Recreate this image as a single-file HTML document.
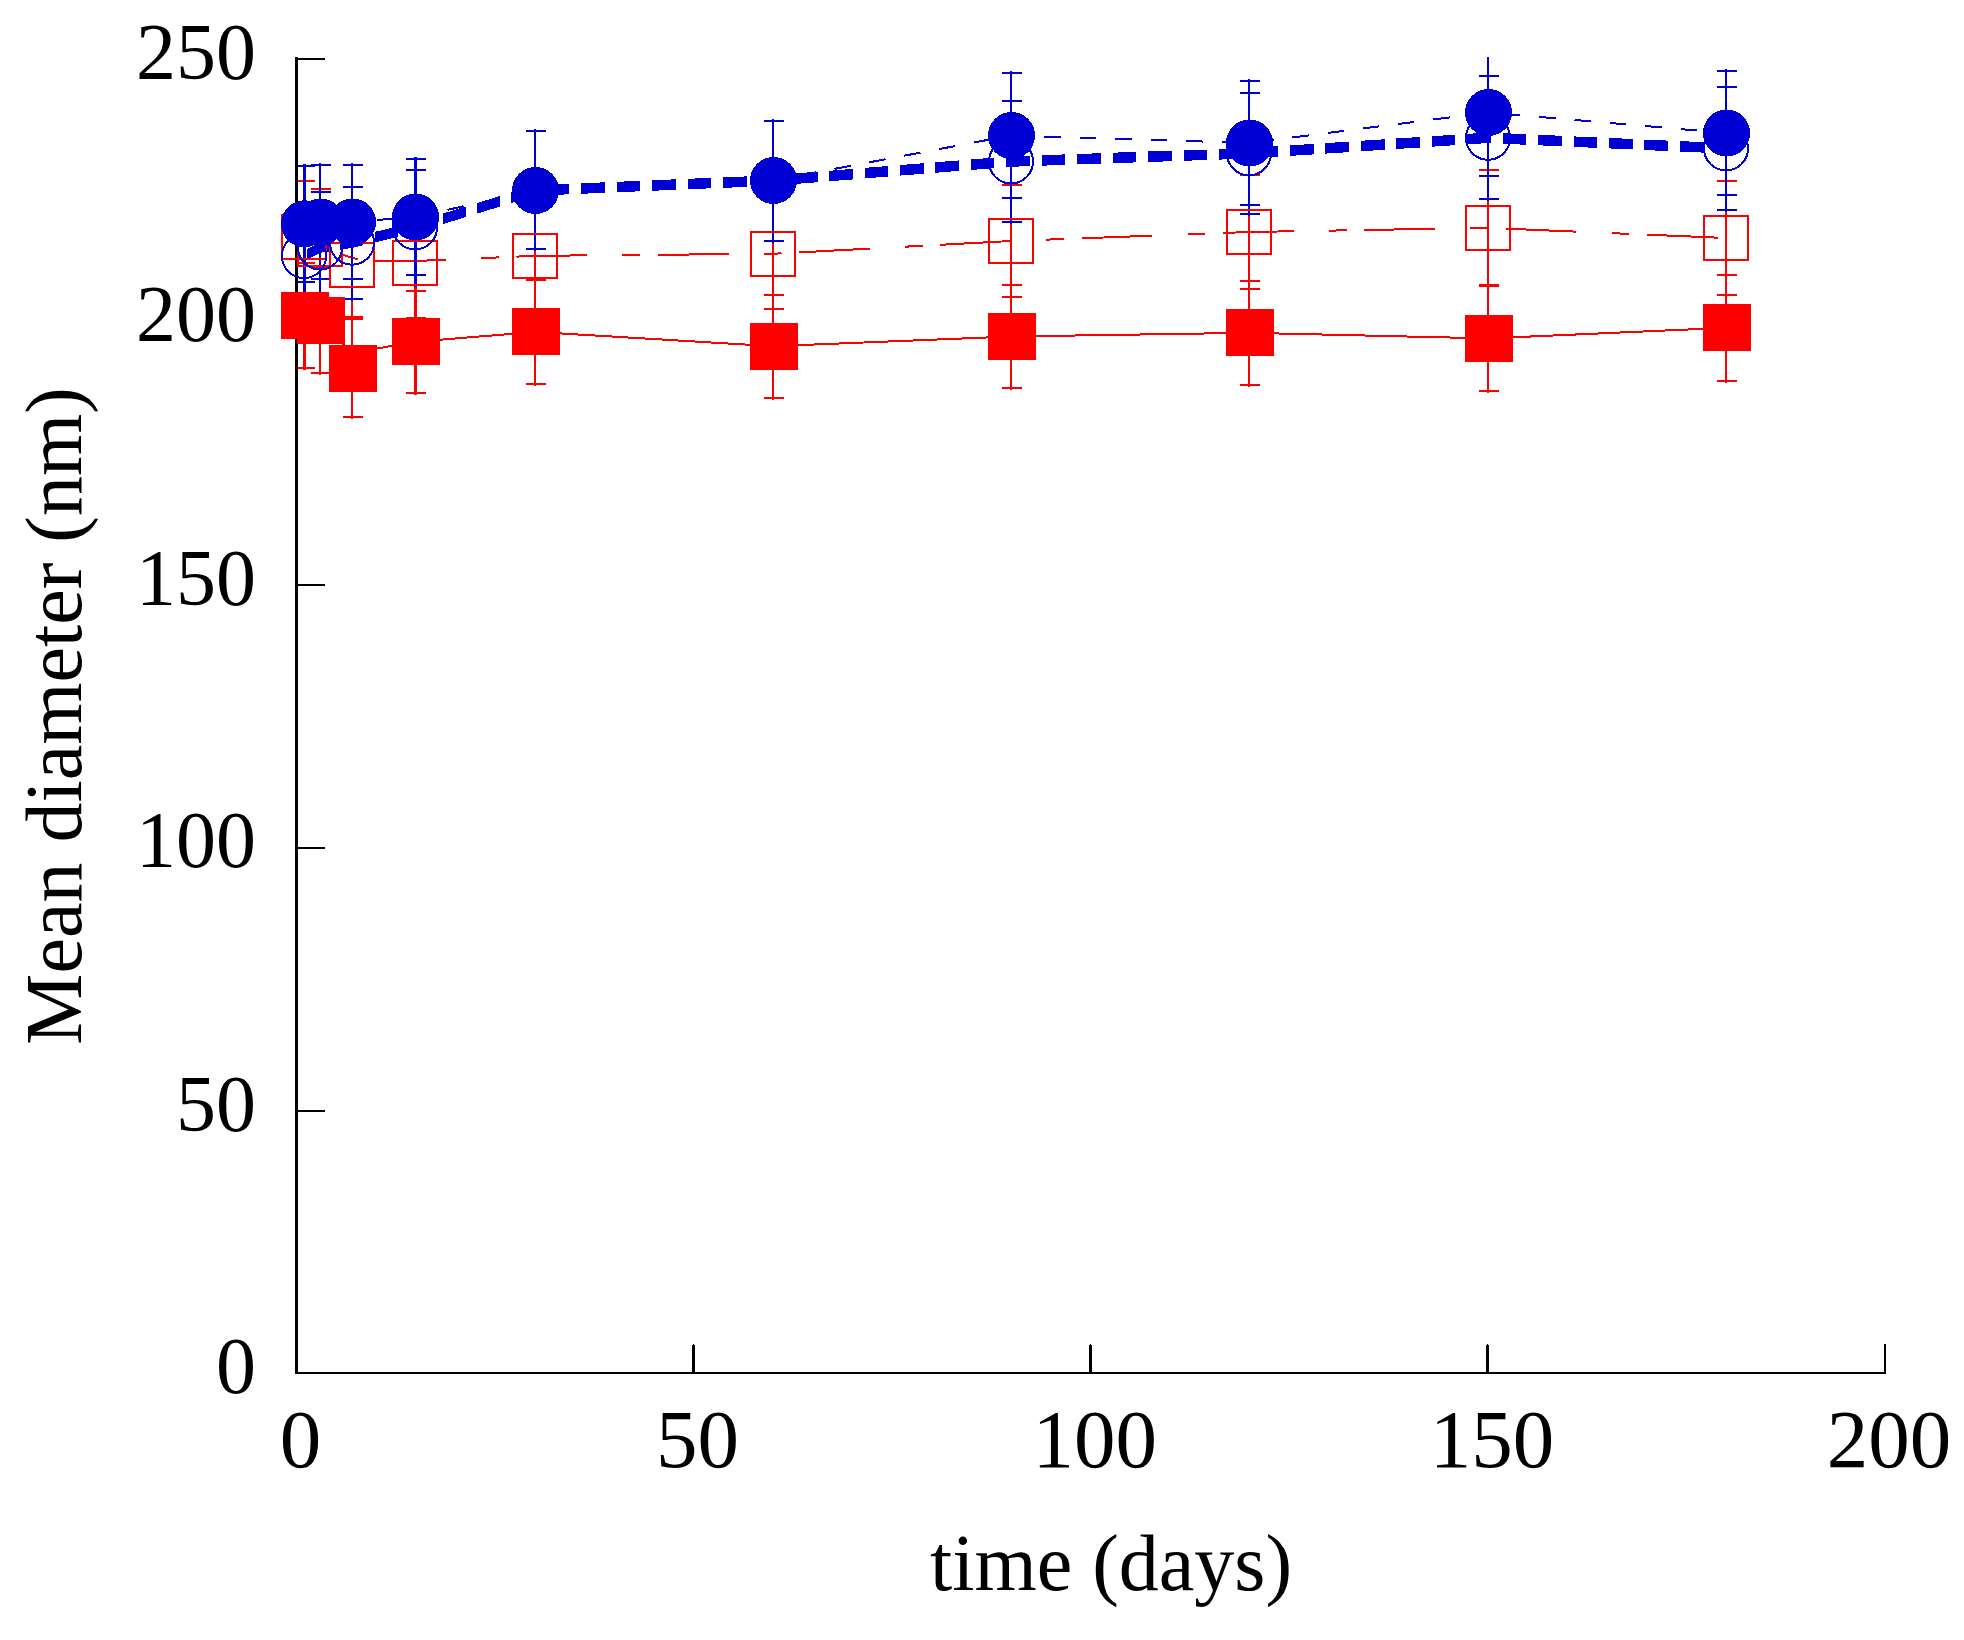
<!DOCTYPE html>
<html lang="en">
<head>
<meta charset="utf-8">
<title>Mean diameter vs time</title>
<style>
html,body{margin:0;padding:0;background:#ffffff;}
body{width:1964px;height:1640px;overflow:hidden;}
svg{display:block;}
</style>
</head>
<body>
<svg width="1964" height="1640" viewBox="0 0 1964 1640" shape-rendering="crispEdges">
<defs><clipPath id="plot"><rect x="298" y="57" width="1640" height="1315"/></clipPath></defs>
<rect width="1964" height="1640" fill="#ffffff"/>
<g fill="#000000">
<rect x="295" y="57" width="3" height="1317"/>
<rect x="295" y="1372" width="1591" height="2"/>
<rect x="297" y="1110" width="28" height="2"/>
<rect x="297" y="847" width="28" height="2"/>
<rect x="297" y="584" width="28" height="2"/>
<rect x="297" y="321" width="28" height="2"/>
<rect x="297" y="58" width="28" height="2"/>
<rect x="692" y="1345" width="3" height="28"/>
<rect x="693" y="1344" width="1" height="1"/>
<rect x="1089" y="1345" width="3" height="28"/>
<rect x="1090" y="1344" width="1" height="1"/>
<rect x="1486" y="1345" width="3" height="28"/>
<rect x="1487" y="1344" width="1" height="1"/>
<rect x="1884" y="1344" width="2" height="29"/>
</g>
<g clip-path="url(#plot)">
<polyline points="304.0,315.5 320.0,320.4 352.0,352.8 415.6,341.8 535.0,331.9 773.0,346.2 1011.0,336.5 1249.0,332.8 1488.0,338.4 1726.0,327.8" fill="none" stroke="#ff0000" stroke-width="2"/>
<polyline points="304.0,237.5 320.3,248.0 363.0,261.0 415.6,261.0 535.0,255.8 773.0,253.8 1011.0,241.0 1249.0,232.0 1488.0,227.9 1726.0,238.0" fill="none" stroke="#ff0000" stroke-width="2" stroke-dasharray="17.7 17.7 70.7 35.3" stroke-dashoffset="100.6"/>
<g fill="#0000d4"><polygon points="306.6,249.3 320.0,242.2 320.0,252.8 306.6,259.8"/><polygon points="320.0,242.2 328.5,241.0 328.5,251.5 320.0,252.8"/><polygon points="340.2,239.2 352.0,237.4 352.0,247.9 340.2,249.7"/><polygon points="352.0,237.4 363.4,234.7 363.4,245.2 352.0,247.9"/><polygon points="374.9,231.9 397.9,226.3 397.9,236.8 374.9,242.4"/><polygon points="409.4,223.5 415.0,222.2 415.0,232.7 409.4,234.0"/><polygon points="415.0,222.2 432.1,216.9 432.1,227.4 415.0,232.7"/><polygon points="443.4,213.4 466.0,206.5 466.0,217.0 443.4,223.9"/><polygon points="477.3,203.0 500.0,196.0 500.0,206.5 477.3,213.5"/><polygon points="511.2,192.6 533.9,185.6 533.9,196.1 511.2,203.1"/><polygon points="545.6,184.8 569.3,183.8 569.3,194.3 545.6,195.3"/><polygon points="581.1,183.3 604.8,182.3 604.8,192.8 581.1,193.8"/><polygon points="616.6,181.8 640.3,180.8 640.3,191.3 616.6,192.3"/><polygon points="652.0,180.3 675.7,179.3 675.7,189.8 652.0,190.8"/><polygon points="687.5,178.8 711.2,177.8 711.2,188.3 687.5,189.3"/><polygon points="723.0,177.4 746.7,176.4 746.7,186.9 723.0,187.9"/><polygon points="758.5,175.9 773.0,175.2 773.0,185.8 758.5,186.4"/><polygon points="773.0,175.2 782.1,174.5 782.1,185.0 773.0,185.8"/><polygon points="793.9,173.6 817.5,171.7 817.5,182.2 793.9,184.1"/><polygon points="829.3,170.8 852.9,168.9 852.9,179.4 829.3,181.3"/><polygon points="864.6,167.9 888.3,166.0 888.3,176.5 864.6,178.4"/><polygon points="900.0,165.1 923.7,163.2 923.7,173.7 900.0,175.6"/><polygon points="935.4,162.3 959.0,160.4 959.0,170.9 935.4,172.8"/><polygon points="970.8,159.5 994.4,157.6 994.4,168.1 970.8,170.0"/><polygon points="1006.2,156.6 1011.0,156.2 1011.0,166.8 1006.2,167.1"/><polygon points="1011.0,156.2 1029.9,155.6 1029.9,166.1 1011.0,166.8"/><polygon points="1041.7,155.2 1065.3,154.4 1065.3,164.9 1041.7,165.7"/><polygon points="1077.1,154.0 1100.8,153.2 1100.8,163.7 1077.1,164.5"/><polygon points="1112.6,152.7 1136.3,151.9 1136.3,162.4 1112.6,163.2"/><polygon points="1148.1,151.5 1171.8,150.7 1171.8,161.2 1148.1,162.0"/><polygon points="1183.6,150.3 1207.3,149.5 1207.3,160.0 1183.6,160.8"/><polygon points="1219.1,149.1 1242.7,148.3 1242.7,158.8 1219.1,159.6"/><polygon points="1254.5,147.7 1278.2,146.2 1278.2,156.7 1254.5,158.2"/><polygon points="1290.0,145.4 1313.6,143.9 1313.6,154.4 1290.0,155.9"/><polygon points="1325.4,143.1 1349.0,141.6 1349.0,152.1 1325.4,153.6"/><polygon points="1360.8,140.8 1384.5,139.3 1384.5,149.8 1360.8,151.3"/><polygon points="1396.2,138.5 1419.9,137.0 1419.9,147.5 1396.2,149.0"/><polygon points="1431.7,136.2 1455.3,134.7 1455.3,145.2 1431.7,146.7"/><polygon points="1467.1,133.9 1488.0,132.6 1488.0,143.1 1467.1,144.4"/><polygon points="1488.0,132.6 1490.7,132.7 1490.7,143.2 1488.0,143.1"/><polygon points="1502.5,133.2 1526.2,134.3 1526.2,144.8 1502.5,143.7"/><polygon points="1538.0,134.8 1561.7,135.8 1561.7,146.3 1538.0,145.3"/><polygon points="1573.5,136.4 1597.1,137.4 1597.1,147.9 1573.5,146.9"/><polygon points="1608.9,137.9 1632.6,139.0 1632.6,149.5 1608.9,148.4"/><polygon points="1644.4,139.5 1668.1,140.6 1668.1,151.1 1644.4,150.0"/><polygon points="1679.8,141.1 1703.5,142.1 1703.5,152.6 1679.8,151.6"/><polygon points="1715.3,142.7 1726.0,143.2 1726.0,153.7 1715.3,153.2"/></g>
<polyline points="304.0,223.8 320.0,222.0 352.0,222.0 415.0,217.0 535.0,190.5 773.0,180.5 1011.0,135.5 1249.0,143.0 1488.0,112.5 1726.0,133.0" fill="none" stroke="#0000d4" stroke-width="2" stroke-dasharray="16.5 19" stroke-dashoffset="33.0"/>
<g fill="#ff0000"><rect x="303" y="261" width="3" height="109"/><rect x="295" y="262" width="20" height="2"/><rect x="295" y="367" width="20" height="2"/><rect x="319" y="266" width="2" height="109"/><rect x="311" y="267" width="20" height="2"/><rect x="311" y="372" width="20" height="2"/><rect x="351" y="317" width="2" height="102"/><rect x="343" y="318" width="20" height="2"/><rect x="343" y="416" width="20" height="2"/><rect x="414" y="289" width="3" height="106"/><rect x="406" y="290" width="20" height="2"/><rect x="406" y="392" width="20" height="2"/><rect x="534" y="278" width="2" height="108"/><rect x="526" y="279" width="20" height="2"/><rect x="526" y="383" width="20" height="2"/><rect x="772" y="293" width="2" height="107"/><rect x="764" y="294" width="20" height="2"/><rect x="764" y="397" width="20" height="2"/><rect x="1010" y="283" width="2" height="107"/><rect x="1002" y="284" width="20" height="2"/><rect x="1002" y="387" width="20" height="2"/><rect x="1248" y="279" width="2" height="108"/><rect x="1240" y="280" width="20" height="2"/><rect x="1240" y="384" width="20" height="2"/><rect x="1487" y="284" width="2" height="109"/><rect x="1479" y="285" width="20" height="2"/><rect x="1479" y="390" width="20" height="2"/><rect x="1725" y="273" width="2" height="110"/><rect x="1717" y="274" width="20" height="2"/><rect x="1717" y="380" width="20" height="2"/></g>
<g fill="#ff0000"><rect x="303" y="179" width="3" height="116"/><rect x="295" y="180" width="20" height="2"/><rect x="295" y="292" width="20" height="2"/><rect x="319" y="187" width="2" height="115"/><rect x="311" y="188" width="20" height="2"/><rect x="311" y="299" width="20" height="2"/><rect x="351" y="211" width="2" height="108"/><rect x="343" y="212" width="20" height="2"/><rect x="343" y="316" width="20" height="2"/><rect x="414" y="206" width="3" height="114"/><rect x="406" y="207" width="20" height="2"/><rect x="406" y="317" width="20" height="2"/><rect x="534" y="198" width="2" height="116"/><rect x="526" y="199" width="20" height="2"/><rect x="526" y="311" width="20" height="2"/><rect x="772" y="196" width="2" height="115"/><rect x="764" y="197" width="20" height="2"/><rect x="764" y="308" width="20" height="2"/><rect x="1010" y="183" width="2" height="116"/><rect x="1002" y="184" width="20" height="2"/><rect x="1002" y="296" width="20" height="2"/><rect x="1248" y="173" width="2" height="118"/><rect x="1240" y="174" width="20" height="2"/><rect x="1240" y="288" width="20" height="2"/><rect x="1487" y="168" width="2" height="119"/><rect x="1479" y="169" width="20" height="2"/><rect x="1479" y="284" width="20" height="2"/><rect x="1725" y="179" width="2" height="118"/><rect x="1717" y="180" width="20" height="2"/><rect x="1717" y="294" width="20" height="2"/></g>
<g fill="#0000d4"><rect x="303" y="202" width="3" height="108"/><rect x="295" y="203" width="20" height="2"/><rect x="295" y="307" width="20" height="2"/><rect x="319" y="190" width="2" height="115"/><rect x="311" y="191" width="20" height="2"/><rect x="311" y="302" width="20" height="2"/><rect x="351" y="185" width="2" height="116"/><rect x="343" y="186" width="20" height="2"/><rect x="343" y="298" width="20" height="2"/><rect x="414" y="168" width="3" height="119"/><rect x="406" y="169" width="20" height="2"/><rect x="406" y="284" width="20" height="2"/><rect x="534" y="129" width="2" height="122"/><rect x="526" y="130" width="20" height="2"/><rect x="526" y="248" width="20" height="2"/><rect x="772" y="119" width="2" height="124"/><rect x="764" y="120" width="20" height="2"/><rect x="764" y="240" width="20" height="2"/><rect x="1010" y="99" width="2" height="125"/><rect x="1002" y="100" width="20" height="2"/><rect x="1002" y="221" width="20" height="2"/><rect x="1248" y="91" width="2" height="125"/><rect x="1240" y="92" width="20" height="2"/><rect x="1240" y="213" width="20" height="2"/><rect x="1487" y="74" width="2" height="127"/><rect x="1479" y="75" width="20" height="2"/><rect x="1479" y="198" width="20" height="2"/><rect x="1725" y="85" width="2" height="127"/><rect x="1717" y="86" width="20" height="2"/><rect x="1717" y="209" width="20" height="2"/></g>
<g fill="#0000d4"><rect x="303" y="164" width="3" height="120"/><rect x="295" y="165" width="20" height="2"/><rect x="295" y="281" width="20" height="2"/><rect x="319" y="163" width="2" height="118"/><rect x="311" y="164" width="20" height="2"/><rect x="311" y="278" width="20" height="2"/><rect x="351" y="163" width="2" height="118"/><rect x="343" y="164" width="20" height="2"/><rect x="343" y="278" width="20" height="2"/><rect x="414" y="157" width="3" height="120"/><rect x="406" y="158" width="20" height="2"/><rect x="406" y="274" width="20" height="2"/><rect x="534" y="129" width="2" height="122"/><rect x="526" y="130" width="20" height="2"/><rect x="526" y="248" width="20" height="2"/><rect x="772" y="119" width="2" height="124"/><rect x="764" y="120" width="20" height="2"/><rect x="764" y="240" width="20" height="2"/><rect x="1010" y="71" width="2" height="129"/><rect x="1002" y="72" width="20" height="2"/><rect x="1002" y="197" width="20" height="2"/><rect x="1248" y="79" width="2" height="128"/><rect x="1240" y="80" width="20" height="2"/><rect x="1240" y="204" width="20" height="2"/><rect x="1487" y="47" width="2" height="131"/><rect x="1479" y="48" width="20" height="2"/><rect x="1479" y="175" width="20" height="2"/><rect x="1725" y="69" width="2" height="128"/><rect x="1717" y="70" width="20" height="2"/><rect x="1717" y="194" width="20" height="2"/></g>
</g>
<rect x="281" y="292" width="48" height="47" fill="#ff0000"/><rect x="297" y="297" width="48" height="47" fill="#ff0000"/><rect x="329" y="345" width="48" height="47" fill="#ff0000"/><rect x="392" y="318" width="48" height="47" fill="#ff0000"/><rect x="512" y="308" width="48" height="47" fill="#ff0000"/><rect x="750" y="323" width="48" height="47" fill="#ff0000"/><rect x="988" y="313" width="48" height="47" fill="#ff0000"/><rect x="1226" y="309" width="48" height="47" fill="#ff0000"/><rect x="1465" y="315" width="48" height="47" fill="#ff0000"/><rect x="1703" y="304" width="48" height="47" fill="#ff0000"/>
<rect x="282" y="215" width="44" height="44" fill="none" stroke="#ff0000" stroke-width="2"/><rect x="298" y="222" width="44" height="44" fill="none" stroke="#ff0000" stroke-width="2"/><rect x="330" y="243" width="44" height="44" fill="none" stroke="#ff0000" stroke-width="2"/><rect x="393" y="241" width="44" height="44" fill="none" stroke="#ff0000" stroke-width="2"/><rect x="513" y="234" width="44" height="44" fill="none" stroke="#ff0000" stroke-width="2"/><rect x="751" y="232" width="44" height="44" fill="none" stroke="#ff0000" stroke-width="2"/><rect x="989" y="219" width="44" height="44" fill="none" stroke="#ff0000" stroke-width="2"/><rect x="1227" y="210" width="44" height="44" fill="none" stroke="#ff0000" stroke-width="2"/><rect x="1466" y="206" width="44" height="44" fill="none" stroke="#ff0000" stroke-width="2"/><rect x="1704" y="216" width="44" height="44" fill="none" stroke="#ff0000" stroke-width="2"/>
<circle cx="304" cy="256.0" r="22" fill="none" stroke="#0000d4" stroke-width="2"/><circle cx="320" cy="247.5" r="22" fill="none" stroke="#0000d4" stroke-width="2"/><circle cx="352" cy="242.7" r="22" fill="none" stroke="#0000d4" stroke-width="2"/><circle cx="415" cy="227.4" r="22" fill="none" stroke="#0000d4" stroke-width="2"/><circle cx="535" cy="190.5" r="22" fill="none" stroke="#0000d4" stroke-width="2"/><circle cx="773" cy="180.5" r="22" fill="none" stroke="#0000d4" stroke-width="2"/><circle cx="1011" cy="161.5" r="22" fill="none" stroke="#0000d4" stroke-width="2"/><circle cx="1249" cy="153.3" r="22" fill="none" stroke="#0000d4" stroke-width="2"/><circle cx="1488" cy="137.8" r="22" fill="none" stroke="#0000d4" stroke-width="2"/><circle cx="1726" cy="148.4" r="22" fill="none" stroke="#0000d4" stroke-width="2"/>
<circle cx="304.5" cy="223.8" r="23.5" fill="#0000d4"/><circle cx="320.5" cy="222.0" r="23.5" fill="#0000d4"/><circle cx="352.5" cy="222.0" r="23.5" fill="#0000d4"/><circle cx="415.5" cy="217.0" r="23.5" fill="#0000d4"/><circle cx="535.5" cy="190.5" r="23.5" fill="#0000d4"/><circle cx="773.5" cy="180.5" r="23.5" fill="#0000d4"/><circle cx="1011.5" cy="135.5" r="23.5" fill="#0000d4"/><circle cx="1249.5" cy="143.0" r="23.5" fill="#0000d4"/><circle cx="1488.5" cy="112.5" r="23.5" fill="#0000d4"/><circle cx="1726.5" cy="133.0" r="23.5" fill="#0000d4"/>
<g font-family="'Liberation Serif', serif" font-size="80" fill="#000000" shape-rendering="auto">
<text x="256" y="1393.3" text-anchor="end">0</text>
<text x="256" y="1131.4" text-anchor="end">50</text>
<text x="256" y="866.5" text-anchor="end">100</text>
<text x="256" y="604.6" text-anchor="end">150</text>
<text x="256" y="340.7" text-anchor="end">200</text>
<text x="256" y="78.8" text-anchor="end">250</text>
<text x="300.5" y="1467" text-anchor="middle" font-size="83">0</text>
<text x="697.6" y="1467" text-anchor="middle" font-size="83">50</text>
<text x="1094.8" y="1467" text-anchor="middle" font-size="83">100</text>
<text x="1491.9" y="1467" text-anchor="middle" font-size="83">150</text>
<text x="1889.0" y="1467" text-anchor="middle" font-size="83">200</text>
<text x="930" y="1589.5">time (days)</text>
<text transform="translate(81.2,1044.7) rotate(-90)" x="0" y="0">Mean diameter (nm)</text>
</g>
</svg>
</body>
</html>
